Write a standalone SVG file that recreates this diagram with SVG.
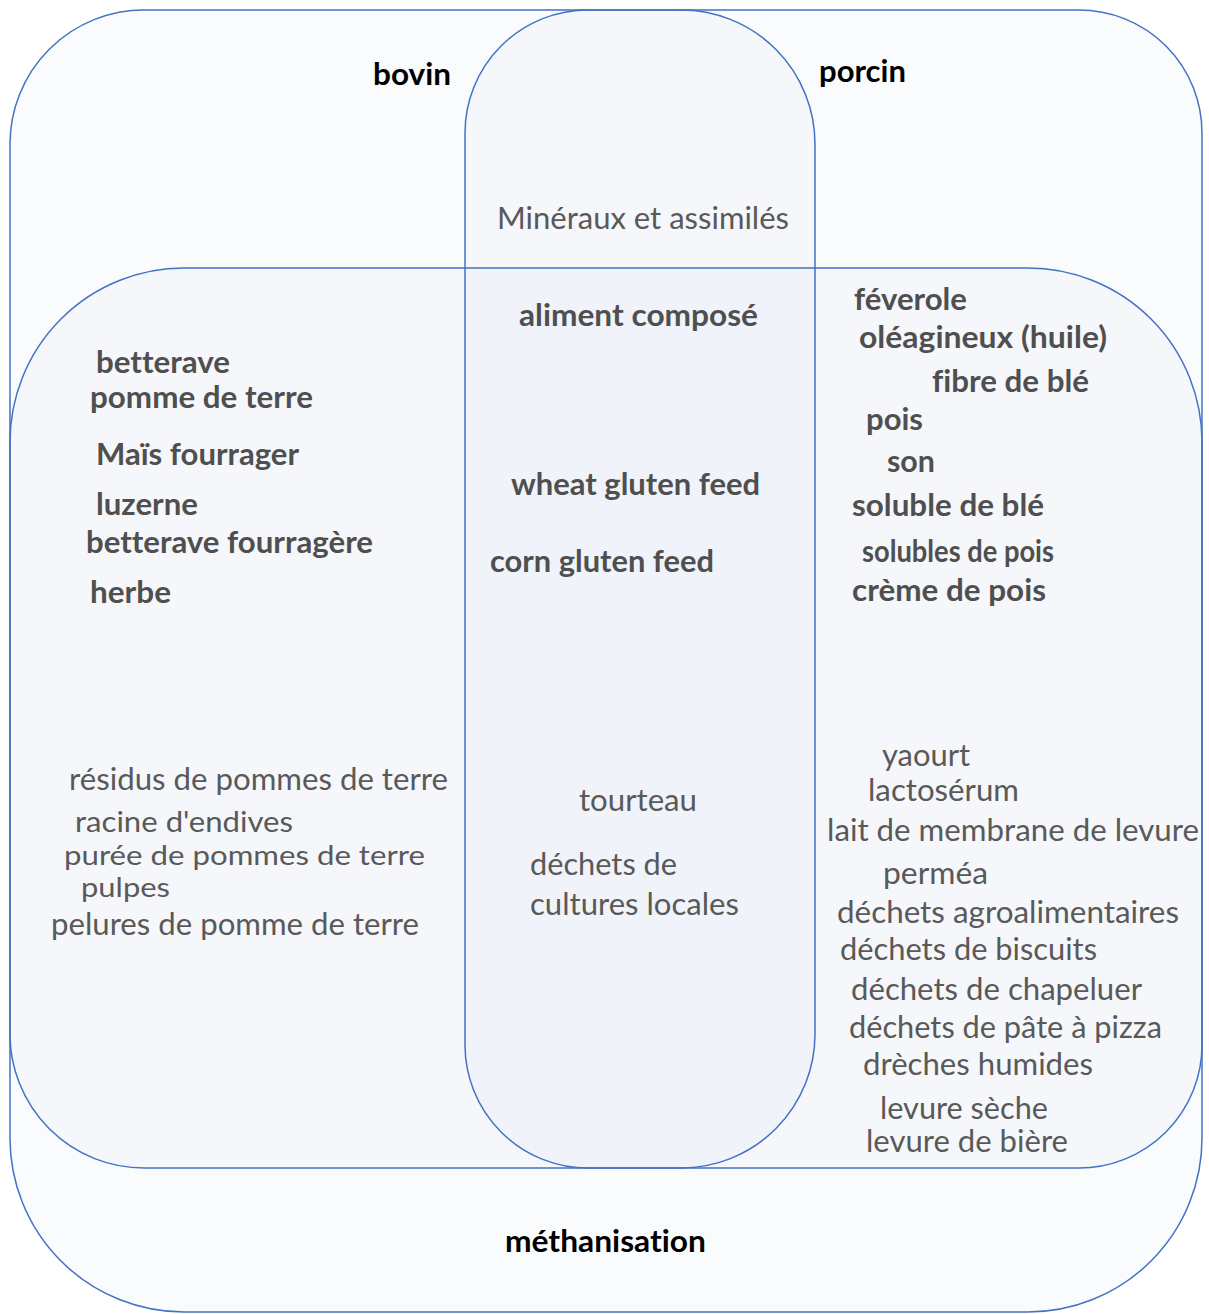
<svg xmlns="http://www.w3.org/2000/svg" width="1209" height="1314" viewBox="0 0 1209 1314">
<style>
.set{fill:#4472C4;fill-opacity:0.028;stroke:#4472C4;stroke-width:1.5}
text{font-family:Lato,"Open Sans","Liberation Sans",sans-serif;font-size:30px;font-variant-ligatures:none}
.t{font-weight:bold;fill:#000}
.b{font-weight:bold;fill:#4f4f4f}
.r{fill:#595959}
.s{font-size:28px}
</style>
<rect width="1209" height="1314" fill="#ffffff"/>
<g id="methanisation">
<rect class="set" x="10" y="268" width="1192" height="1044" rx="174" ry="174"/>
<text class="t" x="505" y="1252" textLength="201" lengthAdjust="spacingAndGlyphs">méthanisation</text>
</g>
<g id="bovin">
<rect class="set" x="10" y="10" width="805" height="1158" rx="134" ry="134"/>
<text class="t" x="373" y="85" textLength="78" lengthAdjust="spacingAndGlyphs">bovin</text>
</g>
<g id="porcin">
<rect class="set" x="465" y="10" width="737" height="1158" rx="123" ry="123"/>
<text class="t" x="819" y="82" textLength="87" lengthAdjust="spacingAndGlyphs">porcin</text>
</g>
<g id="connectors"/>
<g id="bovin-porcin">
<text class="r" x="497" y="229" textLength="292" lengthAdjust="spacingAndGlyphs">Minéraux et assimilés</text>
</g>
<g id="all-three">
<text class="b" x="519" y="326" textLength="239" lengthAdjust="spacingAndGlyphs">aliment composé</text>
<text class="b" x="511" y="495" textLength="249" lengthAdjust="spacingAndGlyphs">wheat gluten feed</text>
<text class="b" x="490" y="572" textLength="224" lengthAdjust="spacingAndGlyphs">corn gluten feed</text>
<text class="r" x="579" y="811" textLength="118" lengthAdjust="spacingAndGlyphs">tourteau</text>
<text class="r" x="530" y="875" textLength="147" lengthAdjust="spacingAndGlyphs">déchets de</text>
<text class="r" x="530" y="915" textLength="209" lengthAdjust="spacingAndGlyphs">cultures locales</text>
</g>
<g id="bovin-methanisation">
<text class="b" x="96" y="373" textLength="134" lengthAdjust="spacingAndGlyphs">betterave</text>
<text class="b" x="90" y="408" textLength="223" lengthAdjust="spacingAndGlyphs">pomme de terre</text>
<text class="b" x="96" y="465" textLength="203" lengthAdjust="spacingAndGlyphs">Maïs fourrager</text>
<text class="b" x="96" y="515" textLength="102" lengthAdjust="spacingAndGlyphs">luzerne</text>
<text class="b" x="86" y="553" textLength="287" lengthAdjust="spacingAndGlyphs">betterave fourragère</text>
<text class="b" x="90" y="603" textLength="81" lengthAdjust="spacingAndGlyphs">herbe</text>
<text class="r" x="69" y="790" textLength="379" lengthAdjust="spacingAndGlyphs">résidus de pommes de terre</text>
<text class="r s" x="75" y="832" textLength="218" lengthAdjust="spacingAndGlyphs">racine d'endives</text>
<text class="r" style="font-size:27px" x="64" y="865" textLength="361" lengthAdjust="spacingAndGlyphs">purée de pommes de terre</text>
<text class="r" style="font-size:26px" x="81" y="897" textLength="89" lengthAdjust="spacingAndGlyphs">pulpes</text>
<text class="r" x="51" y="935" textLength="368" lengthAdjust="spacingAndGlyphs">pelures de pomme de terre</text>
</g>
<g id="porcin-methanisation">
<text class="b" x="854" y="310" textLength="113" lengthAdjust="spacingAndGlyphs">féverole</text>
<text class="b" x="859" y="348" textLength="248" lengthAdjust="spacingAndGlyphs">oléagineux (huile)</text>
<text class="b" x="932" y="392" textLength="157" lengthAdjust="spacingAndGlyphs">fibre de blé</text>
<text class="b" x="866" y="430" textLength="57" lengthAdjust="spacingAndGlyphs">pois</text>
<text class="b" x="887" y="472" textLength="48" lengthAdjust="spacingAndGlyphs">son</text>
<text class="b" x="852" y="516" textLength="192" lengthAdjust="spacingAndGlyphs">soluble de blé</text>
<text class="b" x="862" y="562" textLength="192" lengthAdjust="spacingAndGlyphs">solubles de pois</text>
<text class="b" x="852" y="601" textLength="194" lengthAdjust="spacingAndGlyphs">crème de pois</text>
<text class="r" x="882" y="766" textLength="88" lengthAdjust="spacingAndGlyphs">yaourt</text>
<text class="r" x="868" y="801" textLength="151" lengthAdjust="spacingAndGlyphs">lactosérum</text>
<text class="r" x="827" y="841" textLength="372" lengthAdjust="spacingAndGlyphs">lait de membrane de levure</text>
<text class="r" x="883" y="884" textLength="105" lengthAdjust="spacingAndGlyphs">perméa</text>
<text class="r" x="837" y="923" textLength="342" lengthAdjust="spacingAndGlyphs">déchets agroalimentaires</text>
<text class="r" x="840" y="960" textLength="257" lengthAdjust="spacingAndGlyphs">déchets de biscuits</text>
<text class="r" x="851" y="1000" textLength="291" lengthAdjust="spacingAndGlyphs">déchets de chapeluer</text>
<text class="r" x="849" y="1038" textLength="313" lengthAdjust="spacingAndGlyphs">déchets de pâte à pizza</text>
<text class="r" x="863" y="1075" textLength="230" lengthAdjust="spacingAndGlyphs">drèches humides</text>
<text class="r" x="880" y="1119" textLength="168" lengthAdjust="spacingAndGlyphs">levure sèche</text>
<text class="r" x="866" y="1152" textLength="202" lengthAdjust="spacingAndGlyphs">levure de bière</text>
</g>
</svg>
